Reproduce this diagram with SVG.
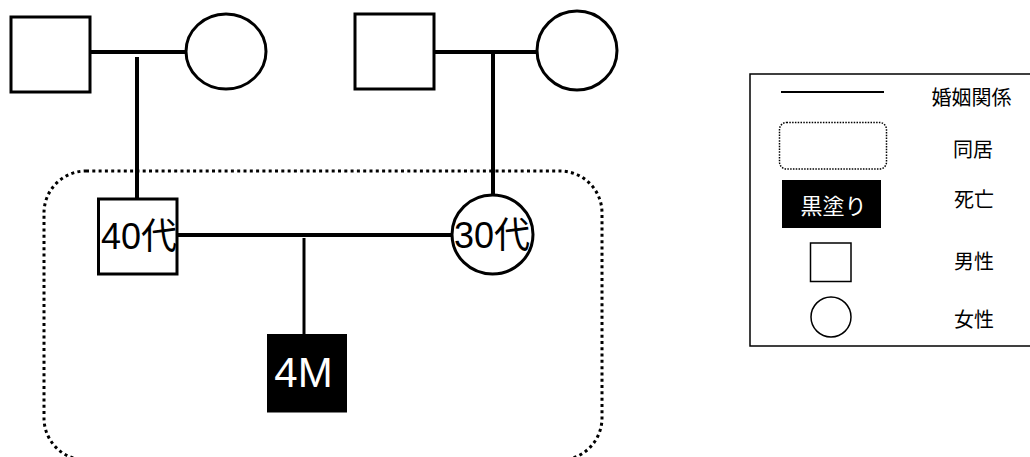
<svg xmlns="http://www.w3.org/2000/svg" width="1030" height="457" viewBox="0 0 1030 457">
<style>
.sym{fill:#fff;stroke:#000;stroke-width:3}
.lnk{stroke:#000;stroke-width:4;fill:none}
.lbl{font-family:"Liberation Sans","Noto Sans CJK JP",sans-serif;font-size:36px;fill:#000;text-anchor:middle}
.leg{font-family:"Noto Sans CJK JP",sans-serif;font-size:20px;fill:#000;text-anchor:middle;dominant-baseline:central}
</style>
<rect width="1030" height="457" fill="#fff"/>
<g id="household">
<rect x="44" y="171" width="558" height="289" rx="42" ry="42" fill="none" stroke="#000" stroke-width="3" stroke-dasharray="3 3.3"/>
</g>
<g id="connectors">
<line class="lnk" x1="90" y1="52" x2="186" y2="52"/>
<line class="lnk" x1="137" y1="57" x2="137" y2="199"/>
<line class="lnk" x1="434" y1="52" x2="537" y2="52"/>
<line class="lnk" x1="493" y1="52" x2="493" y2="195"/>
<line class="lnk" x1="177" y1="235" x2="452" y2="235"/>
<line x1="304" y1="238" x2="304" y2="334" stroke="#000" stroke-width="3"/>
</g>
<g id="gf1"><rect class="sym" x="11" y="17" width="79" height="75"/></g>
<g id="gm1"><ellipse class="sym" cx="226" cy="51.5" rx="40" ry="37.5"/></g>
<g id="gf2"><rect class="sym" x="355" y="14" width="79" height="75"/></g>
<g id="gm2"><ellipse class="sym" cx="577" cy="50.5" rx="40" ry="39.5"/></g>
<g id="father">
<rect class="sym" x="98.5" y="199" width="78.5" height="75"/>
<text class="lbl" x="139" y="249">40代</text>
</g>
<g id="mother">
<ellipse class="sym" cx="492.5" cy="234.5" rx="40.5" ry="39.5"/>
<text class="lbl" x="492" y="248">30代</text>
</g>
<g id="child">
<rect x="267" y="334" width="80" height="78.5" fill="#000"/>
<text class="lbl" x="303.5" y="387" style="fill:#fff;font-size:42px">4M</text>
</g>
<g id="legend">
<rect x="750" y="74" width="290" height="272" fill="#fff" stroke="#000" stroke-width="1.5"/>
<line x1="781" y1="92" x2="884" y2="92" stroke="#000" stroke-width="2"/>
<text class="leg" x="971.5" y="96">婚姻関係</text>
<rect x="779.5" y="122.5" width="107" height="46.5" rx="7" fill="none" stroke="#000" stroke-width="1.5" stroke-dasharray="1.5 1.3"/>
<text class="leg" x="973" y="148">同居</text>
<rect x="782" y="180" width="99" height="48" fill="#000"/>
<text class="leg" x="833.5" y="204" style="fill:#fff;font-size:22px">黒塗り</text>
<text class="leg" x="974" y="198">死亡</text>
<rect x="810.5" y="243" width="40.5" height="38.5" fill="#fff" stroke="#000" stroke-width="1.5"/>
<text class="leg" x="974" y="260">男性</text>
<circle cx="831" cy="317" r="20" fill="#fff" stroke="#000" stroke-width="1.5"/>
<text class="leg" x="974" y="318">女性</text>
</g>
</svg>
